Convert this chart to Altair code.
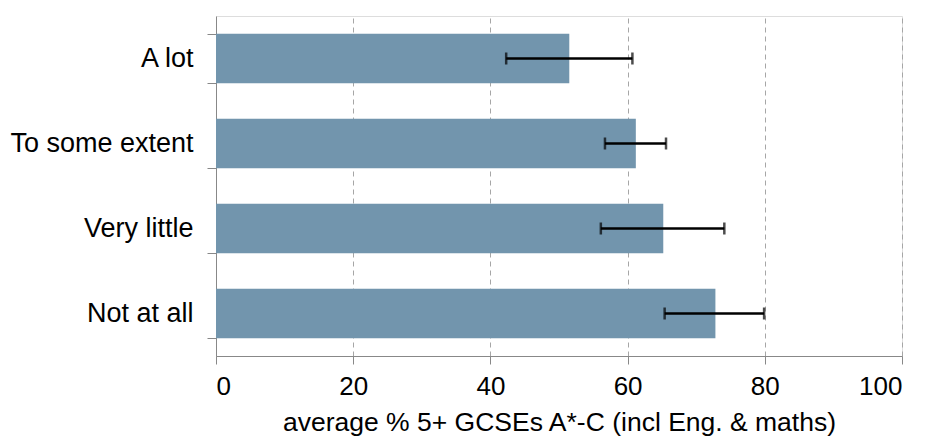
import altair as alt
import pandas as pd

categories = ["A lot", "To some extent", "Very little", "Not at all"]
means = [51.5, 61.2, 65.2, 72.8]
err_low = [42.3, 56.7, 56.1, 65.4]
err_high = [60.7, 65.6, 74.1, 79.9]

df = pd.DataFrame({"cat": categories, "mean": means, "lo": err_low, "hi": err_high})

FONT = "Liberation Sans"

y_enc = alt.Y(
    "cat:N",
    sort=categories,
    title="",
    scale=alt.Scale(paddingInner=0.42, paddingOuter=0.21),
    axis=alt.Axis(
        tickBand="extent",
        tickSize=9,
        tickColor="#888888",
        domainColor="#888888",
        labelPadding=14,
        labelLimit=400,
        labelFontSize=27,
        labelFont=FONT,
        labelColor="#000000",
        grid=False,
    ),
)

x_enc = alt.X(
    "mean:Q",
    title="average % 5+ GCSEs A*-C (incl Eng. & maths)",
    scale=alt.Scale(domain=[0, 100], nice=False),
    axis=alt.Axis(
        values=[0, 20, 40, 60, 80, 100],
        tickSize=8,
        tickColor="#888888",
        domainColor="#888888",
        grid=True,
        gridDash=[5, 4],
        gridColor="#a6a6a6",
        labelPadding=9,
        labelFontSize=26,
        labelFont=FONT,
        labelColor="#000000",
        titleFont=FONT,
        titleFontSize=26.5,
        titleFontWeight="normal",
        titleColor="#000000",
        titlePadding=10,
        titleLimit=800,
    ),
)

bars = alt.Chart(df).mark_bar(color="#7295AD").encode(x=x_enc, y=y_enc)

rules = alt.Chart(df).mark_rule(color="black", strokeWidth=2.5).encode(
    x="lo:Q", x2="hi:Q", y=alt.Y("cat:N", sort=categories)
)
cap_lo = alt.Chart(df).mark_tick(color="black", thickness=2.5, size=12).encode(
    x="lo:Q", y=alt.Y("cat:N", sort=categories)
)
cap_hi = alt.Chart(df).mark_tick(color="black", thickness=2.5, size=12).encode(
    x="hi:Q", y=alt.Y("cat:N", sort=categories)
)

chart = (
    alt.layer(bars, rules, cap_lo, cap_hi)
    .properties(
        width=686,
        height=340,
        autosize=alt.AutoSizeParams(type="none"),
        padding={"left": 208, "top": 8, "right": 15, "bottom": 83},
    )
    .configure_view(stroke=None)
    .configure(background="white")
)

chart.save("out.html", embed_options={"renderer": "svg", "actions": False})
